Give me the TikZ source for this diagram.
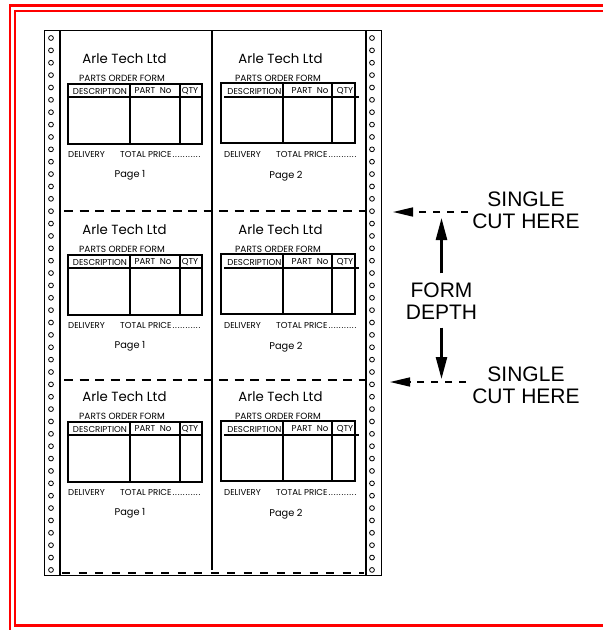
\documentclass[tikz,border=0pt]{standalone}
\usepackage{fontspec}
\setmainfont{Liberation Sans}
\newfontfamily\formfont{Poppins}
\usepackage{xcolor}
\usetikzlibrary{arrows.meta}
\definecolor{framered}{HTML}{FF0000}
\newcommand\pricerow{\hbox to 83pt{TOTAL PRICE\leaders\hbox to 2.6pt{\hss.\hss}\hfill}}

\begin{document}
\begin{tikzpicture}[x=1pt,y=-1pt,
  frameline/.style={framered,line width=2.2pt},
  formline/.style={line width=1.2pt},
  cutline/.style={line width=2pt,dash pattern=on 9pt off 6.5pt},
  arle/.style={font=\formfont\fontsize{13.3}{15}\selectfont,inner sep=0pt},
  formtitle/.style={font=\formfont\fontsize{9}{10}\selectfont,inner sep=0pt},
  formsmall/.style={font=\formfont\fontsize{8.6}{10}\selectfont,inner sep=0pt},
  pagelabel/.style={font=\formfont\fontsize{9.8}{11}\selectfont,inner sep=0pt},
  biglabel/.style={font=\fontsize{21}{22}\selectfont,align=center,inner sep=2pt},
  cutarrow/.style={line width=1.6pt,dash pattern=on 7pt off 7pt,-{Triangle[length=20pt,width=9pt]}},
  deptharrow/.style={line width=2.5pt,-{Triangle[length=22pt,width=11pt]}}]
  \useasboundingbox (0,0) rectangle (603,630);
  % red frame
  \draw[frameline] (10,630) -- (10,5.5) -- (603,5.5);
  \draw[frameline] (603,11.2) -- (15,11.2) -- (15,625.5) -- (603,625.5);
  % continuous stationery
  \draw[line width=1.5pt] (44.5,30.5) rectangle (381.5,575.5);
  \draw[line width=1.5pt] (60,30.5) -- (60,575.5) (366,30.5) -- (366,575.5);
  \draw[line width=1.3pt] (212,30.5) -- (212,570);
  \foreach \k in {0,...,43}{
    \draw[line width=0.8pt] (51,38+\k*12.37) circle (2.4pt);
    \draw[line width=0.8pt] (372,38+\k*12.37) circle (2.4pt);}
  \draw[cutline] (64,211) -- (366,211);
  \draw[cutline] (64,380) -- (366,380);
  \draw[line width=2.5pt,dash pattern=on 8pt off 8.5pt] (62,573) -- (364,573);
  % the six forms
  \foreach \off [count=\b] in {0,171,338}{
    \begin{scope}[shift={(0,\off)}]
      \node[arle] (arleL\b) at (124.5,59) {Arle Tech Ltd};
      \node[formtitle] (titleL\b) at (122,78) {PARTS ORDER FORM};
      \draw[formline] (68,84) rectangle (202,144);
      \draw[formline] (68,97) -- (202,97) (130,84) -- (130,144) (180,84) -- (180,144);
      \node[formsmall] (descL\b) at (100,91) {DESCRIPTION};
      \node[formsmall] (partL\b) at (153,91) {PART\ \ No};
      \node[formsmall] (qtyL\b) at (190,91) {QTY};
      \node[formsmall,anchor=west] (delivL\b) at (68,154) {DELIVERY};
      \node[formsmall,anchor=west] (totalL\b) at (120,154) {\pricerow};
      \node[pagelabel] (pageL\b) at (130,175) {Page 1};
      %
      \node[arle] (arleR\b) at (280.5,59) {Arle Tech Ltd};
      \node[formtitle] (titleR\b) at (278,78) {PARTS ORDER FORM};
      \draw[formline] (221,83) rectangle (355,143);
      \draw[formline] (224,97) -- (359,97) (283,83) -- (283,143) (332,83) -- (332,143);
      \node[formsmall] (descR\b) at (254.5,91) {DESCRIPTION};
      \node[formsmall] (partR\b) at (310,91) {PART\ \ No};
      \node[formsmall] (qtyR\b) at (345,91) {QTY};
      \node[formsmall,anchor=west] (delivR\b) at (224,154) {DELIVERY};
      \node[formsmall,anchor=west] (totalR\b) at (276,154) {\pricerow};
      \node[pagelabel] (pageR\b) at (286,176) {Page 2};
    \end{scope}}
  % annotations
  \node[biglabel] (cutA) at (526,210) {SINGLE\\CUT HERE};
  \node[biglabel] (cutB) at (526,385.5) {SINGLE\\CUT HERE};
  \node[biglabel] (depth) at (441.5,301) {FORM\\DEPTH};
  \coordinate (tipA) at (393,212);
  \coordinate (tipB) at (390,382);
  \coordinate (depthA) at (441.5,218);
  \coordinate (depthB) at (441.5,379);
  \draw[cutarrow,shorten <=2pt] (cutA.west |- tipA) -- (tipA);
  \draw[cutarrow,shorten <=4pt] (cutB.west |- tipB) -- (tipB);
  \draw[deptharrow,shorten <=7pt] (depth.north) -- (depthA);
  \draw[deptharrow,shorten <=6pt] (depth.south) -- (depthB);
\end{tikzpicture}
\end{document}
